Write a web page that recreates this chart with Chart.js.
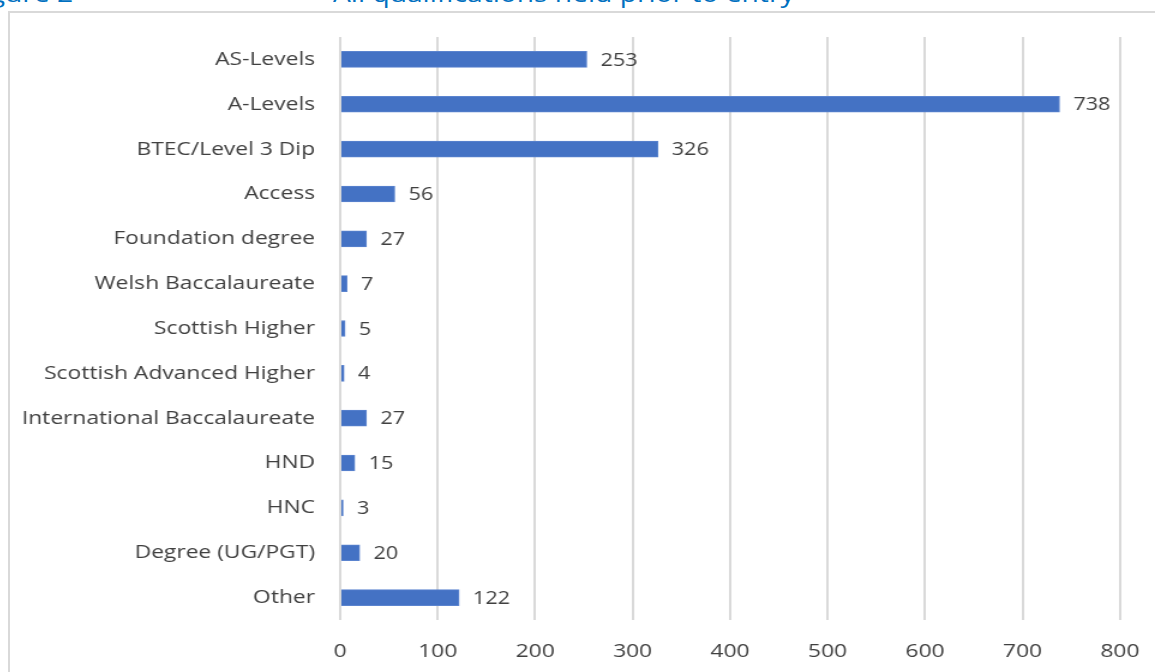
<!DOCTYPE html>
<html><head><meta charset="utf-8">
<script src="https://cdn.jsdelivr.net/npm/chart.js@4"></script>
<style>
html,body{margin:0;padding:0;background:#fff;width:1155px;height:672px;overflow:hidden;position:relative;font-family:"Open Sans",sans-serif}
#frame{position:absolute;left:8px;top:11px;width:1200px;height:700px;border:2px solid #d9d9d9;box-sizing:border-box}
#wrap{position:absolute;left:9px;top:12px;width:955px;height:660px;transform:scaleX(1.2);transform-origin:0 0}
.ttl{position:absolute;top:-22px;color:#0070C0;font-size:23.5px;line-height:30px;white-space:nowrap;transform:scaleX(1.2);transform-origin:0 0}
</style></head><body>
<div class="ttl" style="left:-32px">Figure 2</div>
<div class="ttl" style="left:333px">All qualifications held prior to entry</div>
<div id="frame"></div>
<div id="wrap"><canvas id="c"></canvas></div>
<script>
const categories = ["AS-Levels","A-Levels","BTEC/Level 3 Dip","Access","Foundation degree","Welsh Baccalaureate","Scottish Higher","Scottish Advanced Higher","International Baccalaureate","HND","HNC","Degree (UG/PGT)","Other"];
const values = [253,738,326,56,27,7,5,4,27,15,3,20,122];
const xTicks = [0,100,200,300,400,500,600,700,800];

const valueLabels = {
  id:'valueLabels',
  afterDatasetsDraw(chart){
    const ctx = chart.ctx;
    const meta = chart.getDatasetMeta(0);
    ctx.save();
    ctx.font = '18px "Open Sans"';
    ctx.fillStyle = '#404040';
    ctx.textBaseline = 'middle';
    ctx.textAlign = 'left';
    meta.data.forEach((bar,i)=>{
      ctx.fillText(String(values[i]), bar.x + 11.5, bar.y + 1);
    });
    ctx.restore();
  }
};

new Chart(document.getElementById('c'),{
  type:'bar',
  data:{labels:categories,datasets:[{data:values,backgroundColor:'#4472C4',borderColor:'#5B84CF',borderWidth:1,barThickness:16}]},
  options:{
    indexAxis:'y',responsive:true,maintainAspectRatio:false,animation:false,
    layout:{padding:{top:25,right:29.2,left:0,bottom:0}},
    plugins:{legend:{display:false},tooltip:{enabled:false}},
    scales:{
      x:{min:0,max:800,
        afterBuildTicks(s){s.ticks = xTicks.map(v=>({value:v}));},
        afterFit(s){s.height=52;s.paddingLeft=0;s.paddingRight=0;},
        grid:{color:'#d9d9d9',lineWidth:2,drawTicks:false},
        border:{display:false},
        ticks:{padding:20,color:'#404040',font:{family:'"Liberation Sans Narrow","Open Sans"',size:19}}
      },
      y:{
        afterFit(s){s.width=276;s.paddingTop=0;s.paddingBottom=0;},
        grid:{display:false,drawTicks:false},
        border:{display:false},
        ticks:{padding:21,color:'#404040',font:{family:'"Open Sans"',size:19}}
      }
    }
  },
  plugins:[valueLabels]
});
</script>
</body></html>
